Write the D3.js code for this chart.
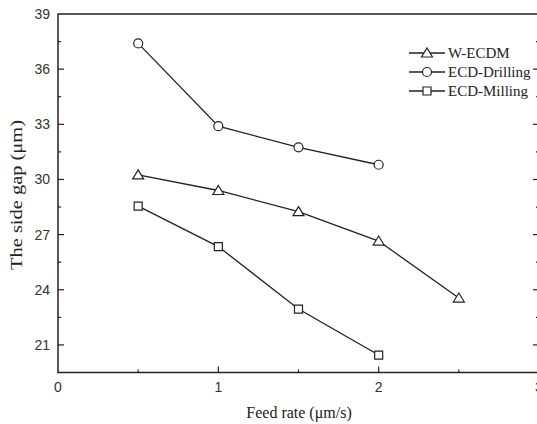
<!DOCTYPE html>
<html>
<head>
<meta charset="utf-8">
<script src="https://cdn.jsdelivr.net/npm/d3@7"></script>
<style>
  html, body { margin: 0; padding: 0; background: #fff; }
  svg { display: block; }
</style>
</head>
<body>
<svg id="chart" width="537" height="424"></svg>
<script>
// Feed rate (µm/s) at which each process was measured
const feedRates = [0.5, 1, 1.5, 2, 2.5];
const feedRatesShort = [0.5, 1, 1.5, 2];

// Side gap (µm) per process
const wecdm = [30.25, 29.4, 28.25, 26.65, 23.55];
const ecdDrilling = [37.4, 32.9, 31.75, 30.8];
const ecdMilling = [28.55, 26.35, 22.95, 20.45];

const seriesNames = ["W-ECDM", "ECD-Drilling", "ECD-Milling"];
const seriesShapes = ["triangle", "circle", "square"];

const xTicks = [0, 1, 2, 3];
const yTicks = [21, 24, 27, 30, 33, 36, 39];

const svg = d3.select("#chart");
const ink = "#222";

const x = d3.scaleLinear().domain([0, 3]).range([58, 539]);
const y = d3.scaleLinear().domain([19.5, 39]).range([372.5, 14]);

const plotLeft = x(0), plotRight = x(3), plotTop = y(39), plotBottom = y(19.5);

// frame
const frame = svg.append("g").attr("stroke", ink).attr("stroke-width", 1.5).attr("fill", "none");
frame.append("path").attr("d", `M${plotRight},${plotTop}H${plotLeft}V${plotBottom}H${plotRight}V${plotTop}`);

// inward ticks on left and right
const yMinor = d3.range(22.5, 39, 3);
const tickG = svg.append("g").attr("stroke", ink).attr("stroke-width", 1.2);
yTicks.filter(v => v < 39).forEach(v => {
  tickG.append("line").attr("x1", plotLeft).attr("x2", plotLeft + 6).attr("y1", y(v)).attr("y2", y(v));
  tickG.append("line").attr("x1", plotRight).attr("x2", plotRight - 6).attr("y1", y(v)).attr("y2", y(v));
});
yMinor.forEach(v => {
  tickG.append("line").attr("x1", plotLeft).attr("x2", plotLeft + 3).attr("y1", y(v)).attr("y2", y(v));
  tickG.append("line").attr("x1", plotRight).attr("x2", plotRight - 3).attr("y1", y(v)).attr("y2", y(v));
});
// inward ticks on bottom
[1, 2].forEach(v => {
  tickG.append("line").attr("x1", x(v)).attr("x2", x(v)).attr("y1", plotBottom).attr("y2", plotBottom - 6);
});
[0.5, 1.5, 2.5].forEach(v => {
  tickG.append("line").attr("x1", x(v)).attr("x2", x(v)).attr("y1", plotBottom).attr("y2", plotBottom - 3);
});

// tick labels
const tickFont = "'Liberation Sans', Arial, sans-serif";
svg.append("g").selectAll("text").data(yTicks).join("text")
  .attr("x", plotLeft - 8).attr("y", d => y(d)).attr("dy", "0.35em")
  .attr("text-anchor", "end").attr("font-family", tickFont).attr("font-size", 14)
  .attr("fill", "#333").text(d => d);
svg.append("g").selectAll("text").data(xTicks).join("text")
  .attr("x", d => x(d)).attr("y", plotBottom + 19)
  .attr("text-anchor", "middle").attr("font-family", tickFont).attr("font-size", 14)
  .attr("fill", "#333").text(d => d);

// axis titles
const serif = "'Liberation Serif', 'Times New Roman', serif";
svg.append("text").attr("x", 299).attr("y", 418).attr("text-anchor", "middle")
  .attr("font-family", serif).attr("font-size", 16).attr("fill", ink)
  .text("Feed rate (\u03bcm/s)");
svg.append("text").attr("transform", "translate(22,195) rotate(-90)")
  .attr("text-anchor", "middle").attr("font-family", serif).attr("font-size", 16)
  .attr("textLength", 150).attr("lengthAdjust", "spacingAndGlyphs").attr("fill", ink)
  .text("The side gap (\u03bcm)");

// marker drawing
function marker(g, shape, cx, cy) {
  const m = g.append(shape === "circle" ? "circle" : "path")
    .attr("fill", "#fff").attr("stroke", ink).attr("stroke-width", 1.2);
  if (shape === "circle") {
    m.attr("cx", cx).attr("cy", cy).attr("r", 4.5);
  } else if (shape === "square") {
    m.attr("d", `M${cx - 4},${cy - 4}h8v8h-8Z`);
  } else {
    m.attr("d", `M${cx},${cy - 5}L${cx + 5.5},${cy + 4}L${cx - 5.5},${cy + 4}Z`);
  }
}

const series = [
  { xs: feedRates, ys: wecdm },
  { xs: feedRatesShort, ys: ecdDrilling },
  { xs: feedRatesShort, ys: ecdMilling }
];

const line = d3.line().x(d => x(d[0])).y(d => y(d[1]));
series.forEach((s, i) => {
  const pts = s.xs.map((v, j) => [v, s.ys[j]]);
  const g = svg.append("g");
  g.append("path").attr("d", line(pts)).attr("fill", "none")
    .attr("stroke", ink).attr("stroke-width", 1.3);
  pts.forEach(p => marker(g, seriesShapes[i], x(p[0]), y(p[1])));
});

// legend
const legendY = [53, 72, 91];
seriesNames.forEach((name, i) => {
  const g = svg.append("g");
  g.append("line").attr("x1", 409).attr("x2", 445).attr("y1", legendY[i]).attr("y2", legendY[i])
    .attr("stroke", ink).attr("stroke-width", 1.3);
  marker(g, seriesShapes[i], 427, legendY[i]);
  g.append("text").attr("x", 448).attr("y", legendY[i]).attr("dy", "0.33em")
    .attr("font-family", serif).attr("font-size", 15).attr("fill", ink).text(name);
});
</script>
</body>
</html>
